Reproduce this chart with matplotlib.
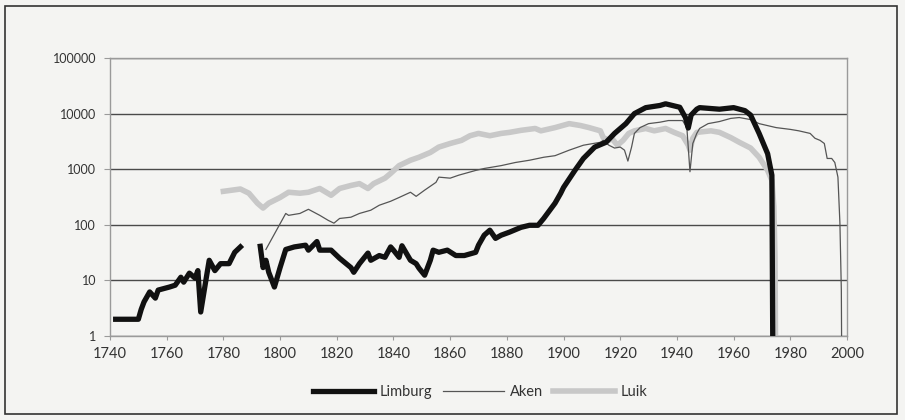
import numpy as np
import matplotlib
matplotlib.use("Agg")
import matplotlib.pyplot as plt
from matplotlib.patches import Rectangle
from matplotlib.ticker import FixedLocator, FixedFormatter, NullLocator

plt.rcParams['font.family'] = ['Lato', 'DejaVu Sans']

limburg_years = [1742, 1750, 1751, 1752, 1754, 1756, 1757, 1761, 1763, 1765, 1766, 1768, 1770, 1771,
                 1772, 1774, 1775, 1777, 1779, 1782, 1784, 1786, 1790,
                 1793, 1794, 1795, 1796, 1798, 1800, 1802, 1805, 1809, 1810, 1813, 1814, 1818, 1821,
                 1825, 1826, 1828, 1831, 1832, 1835, 1837, 1839, 1840, 1842, 1843, 1846, 1848, 1849,
                 1851, 1853, 1854, 1856, 1859, 1862, 1865, 1869, 1870, 1872, 1874, 1876, 1878, 1881,
                 1885, 1888, 1891, 1893, 1897, 1899, 1900, 1904, 1907, 1911, 1915, 1918, 1922, 1925,
                 1929, 1934, 1936, 1941, 1943, 1944, 1945, 1947, 1948, 1955, 1960, 1964, 1966, 1969,
                 1972, 1973.5, 1974]
limburg_values = [2, 2, 3, 4.1, 6.2, 4.8, 6.7, 7.6, 8.2, 11.4, 9.3, 13.5, 11, 15,
                  2.7, 11.4, 23, 15, 20, 20, 32, 40, np.nan,
                  41, 17, 23, 14, 7.6, 17, 36, 40, 43, 35, 50, 35, 35, 25,
                  17, 14, 20, 31, 23, 28, 26, 40, 35, 26, 42, 23, 20, 16.6,
                  12.4, 23, 35, 32, 35, 28, 28, 32, 43, 65, 80, 57, 65, 74,
                  90, 98, 98, 130, 245, 370, 470, 950, 1560, 2500, 3050, 4400, 6600, 10000,
                  12800, 14000, 15000, 13000, 8500, 5500, 9400, 12000, 12800, 12000, 12800, 11300, 9400, 4400,
                  1900, 780, 0.01]

aken_years = [1795, 1802, 1803, 1807, 1810, 1814, 1817, 1819, 1821, 1825, 1828, 1832, 1835, 1839,
              1842, 1846, 1848, 1851, 1855, 1856, 1860, 1863, 1869, 1872, 1878, 1883, 1888, 1893,
              1897, 1902, 1907, 1913, 1914, 1916, 1918, 1920, 1921.5, 1922.7, 1924, 1925, 1927, 1930,
              1934, 1937, 1942, 1943.5, 1944.6, 1945.6, 1947, 1948, 1951, 1955, 1959, 1962, 1966,
              1969, 1975, 1980, 1983, 1987, 1988.7, 1990.5, 1992, 1993, 1994.6, 1995.7, 1996.8,
              1997.5, 1998, 1998.3]
aken_values = [36, 160, 148, 160, 190, 148, 120, 107, 130, 137, 160, 183, 225, 265,
               310, 385, 325, 420, 580, 720, 690, 780, 950, 1030, 1160, 1320, 1450, 1640,
               1750, 2200, 2700, 3050, 3300, 2700, 2400, 2500, 2200, 1400, 2500, 4400, 5600, 6600,
               7000, 7500, 7500, 5600, 900, 2900, 4400, 5400, 6600, 7200, 8200, 8500, 7800,
               6600, 5600, 5200, 4900, 4400, 3600, 3300, 2900, 1560, 1560, 1320, 720,
               107, 6.7, 0.01]

luik_years = [1780, 1786, 1789, 1792, 1794, 1796, 1800, 1803, 1807, 1810, 1814, 1818, 1821, 1825,
              1828, 1831, 1833, 1837, 1839, 1842, 1846, 1849, 1853, 1856, 1860, 1864, 1867, 1870,
              1874, 1878, 1881, 1885, 1890, 1892, 1897, 1902, 1906, 1909, 1913, 1914, 1916, 1917,
              1919, 1921, 1923, 1925, 1929, 1932, 1936, 1939, 1942, 1944, 1944.6, 1945.6, 1947,
              1952, 1955, 1959, 1962, 1966, 1969, 1972, 1973.5, 1974.2, 1974.6, 1975]
luik_values = [400, 440, 370, 245, 200, 245, 310, 385, 370, 385, 450, 340, 450, 510,
               550, 450, 550, 690, 840, 1160, 1450, 1640, 2000, 2500, 2900, 3300, 4000, 4400,
               4000, 4400, 4600, 5000, 5400, 4900, 5600, 6600, 6100, 5600, 4900, 3700, 3300, 3600,
               2700, 3300, 4400, 4900, 5400, 4900, 5400, 4600, 4000, 2700, 2200, 3600, 4600,
               4900, 4600, 3700, 3050, 2400, 1640, 950, 630, 210, 26, 0.01]

x_ticks = [1740, 1760, 1780, 1800, 1820, 1840, 1860, 1880, 1900, 1920, 1940, 1960, 1980, 2000]
y_ticks = [1, 10, 100, 1000, 10000, 100000]
y_tick_labels = ["1", "10", "100", "1000", "10000", "100000"]

bg = '#f4f4f2'
fig = plt.figure(figsize=(9.05, 4.2), dpi=100, facecolor=bg)
ax = fig.add_axes([110/905, 1-336/420, (847-110)/905, (336-58)/420], facecolor=bg)

ax.plot(aken_years, aken_values, color='#555555', lw=0.9, zorder=3, label='Aken')
ax.plot(luik_years, luik_values, color='#c8c8c8', lw=4.0, zorder=2, label='Luik')
ax.plot(limburg_years, limburg_values, color='#111111', lw=3.8, zorder=4, label='Limburg')

ax.set_yscale('log')
ax.set_ylim(1, 100000)
ax.set_xlim(1740, 2000)
ax.yaxis.set_major_locator(FixedLocator(y_ticks))
ax.yaxis.set_major_formatter(FixedFormatter(y_tick_labels))
ax.yaxis.set_minor_locator(NullLocator())
ax.set_xticks(x_ticks)
ax.grid(axis='y', color='#4a4a4a', lw=1.0, zorder=1)
for s in ax.spines.values():
    s.set_color('#9a9a9a')
    s.set_linewidth(1.0)
ax.tick_params(axis='x', labelsize=10.5, colors='#9a9a9a', labelcolor='#333333', length=3, pad=5)
ax.tick_params(axis='y', labelsize=9, colors='#9a9a9a', labelcolor='#333333', length=4, pad=6)

h = {l.get_label(): l for l in ax.get_lines()}
fig.legend([h['Limburg'], h['Aken'], h['Luik']], ['Limburg', 'Aken', 'Luik'],
           loc='center', bbox_to_anchor=(480/905, 1-392/420), ncol=3, frameon=False,
           fontsize=10.5, handlelength=4.2, handletextpad=0.4, columnspacing=0.7,
           labelcolor='#333333')

fig.patches.append(Rectangle((5/905, 6/420), 892/905, 408/420, transform=fig.transFigure,
                             fill=False, edgecolor='#333333', lw=1.2))

fig.savefig('out.png', dpi=100, facecolor=bg)
